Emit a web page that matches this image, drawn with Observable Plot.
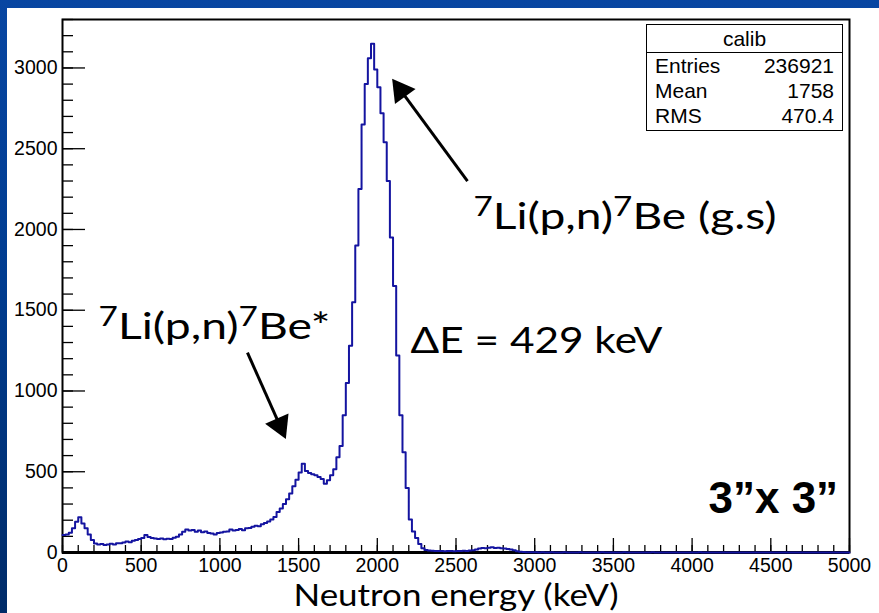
<!DOCTYPE html>
<html><head><meta charset="utf-8">
<script src="https://cdn.jsdelivr.net/npm/d3@7"></script>
<script src="https://cdn.jsdelivr.net/npm/@observablehq/plot@0.6"></script>
<style>
html,body{margin:0;padding:0;}
body{width:879px;height:613px;overflow:hidden;position:relative;
  background:linear-gradient(180deg,#0846a2 0%,#003c90 45%,#002b68 100%);}
#panel{position:absolute;left:7px;top:8px;width:872px;height:605px;background:#fff;}
#chart{position:absolute;left:0;top:0;}
#stats{position:absolute;left:646px;top:24px;width:197px;height:107px;border:1.5px solid #000;box-sizing:border-box;
  font-family:"Liberation Sans",Arial,sans-serif;font-size:21px;color:#000;background:#fff;}
#stats .title{height:27px;line-height:28px;text-align:center;border-bottom:1.5px solid #000;}
#stats .row{display:flex;justify-content:space-between;height:25px;line-height:25px;padding:0 8px 0 8px;}
</style></head>
<body>
<div id="panel"></div>
<div id="chart"></div>
<div id="stats"></div>
<script>
// ---- data: histogram counts, 20 keV bins ----
const binWidth = 20;
const counts0to1000 = [108,112,122,150,190,218,180,150,112,78,55,50,52,47,50,54,50,58,57,62,
  68,64,72,78,84,90,108,96,90,86,84,87,82,85,84,92,98,112,128,142,
  136,140,128,136,126,130,120,118,112,120];
const counts1000to2000 = [124,128,130,142,136,140,146,138,150,152,160,166,162,175,182,192,205,220,250,272,
  300,330,365,410,450,495,550,505,492,484,478,468,455,425,448,478,515,590,660,850,
  1050,1280,1550,1900,2250,2650,2900,3060,3150,2990];
const counts2000to3000 = [2880,2720,2540,2300,1950,1650,1220,850,620,400,205,130,90,52,26,16,13,11,10,9,
  10,8,9,10,8,9,10,11,10,12,14,18,24,28,26,30,32,28,30,26,
  24,22,18,14,8,4,3,2,2,1];
const counts3000to5000 = [1,0,1,0,0,1,0,0,0,1,0,0,0,0,1,0,0,0,0,0,
  0,1,0,0,0,0,0,0,1,0,0,0,0,0,0,0,0,1,0,0,
  0,0,0,0,0,0,0,0,0,0,0,0,1,0,0,0,0,0,0,0,
  0,0,0,0,0,0,0,0,0,0,0,0,0,0,0,0,0,0,0,0,
  0,0,0,0,0,0,0,0,0,0,0,0,0,0,0,0,0,0,0,0];
const xMajor = [0,500,1000,1500,2000,2500,3000,3500,4000,4500,5000];
const yMajor = [0,500,1000,1500,2000,2500,3000];
const xMinor = d3.range(0, 5001, 100);
const yMinor = d3.range(0, 3301, 100);
const statsTitle = "calib";
const statsNames = ["Entries","Mean","RMS"];
const statsValues = ["236921","1758","470.4"];
const xTitle = "Neutron energy (keV)";
// annotations (data coordinates)
const notes = [
  {e: 2611, n: 2004, label: "7Li(p,n)7Be (g.s)", len: 303},
  {e: 229,  n: 1323, label: "7Li(p,n)7Be*", len: 232},
  {e: 2211, n: 1237, label: "\u0394E = 429 keV", len: 252}
];
const noteBold = [{e: 4104, n: 247, label: "3\u201Dx 3\u201D"}];
const arrows = [
  {e1: 2573, n1: 2300, e2: 2116, n2: 2905},
  {e1: 1175, n1: 1237, e2: 1404, n2: 736}
];
const supParts = {
  "7Li(p,n)7Be (g.s)": [["7",1],["Li(p,n)",0],["7",1],["Be (g.s)",0]],
  "7Li(p,n)7Be*": [["7",1],["Li(p,n)",0],["7",1],["Be*",0]]
};
const stretch = {"7Li(p,n)7Be (g.s)": 303, "7Li(p,n)7Be*": 232, "\u0394E = 429 keV": 252, "Neutron energy (keV)": 325};

// ---- build ----
const counts = [...counts0to1000, ...counts1000to2000, ...counts2000to3000, ...counts3000to5000];
const hist = counts.map((n, i) => ({e: i * binWidth, n}));
hist.push({e: 5000, n: counts[counts.length - 1]});

const W = 879, H = 613, mL = 62, mR = 30, mT = 19, mB = 61;
const plotW = W - mL - mR, plotH = H - mT - mB;
const xMax = 5000, yMax = 3300;
const kx = plotW / xMax, ky = plotH / yMax;
const headBack = 9; // px from tip to triangle center
const heads = arrows.map(a => {
  const dx = (a.e2 - a.e1) * kx, dy = -(a.n2 - a.n1) * ky;
  const L = Math.hypot(dx, dy), ux = dx / L, uy = dy / L;
  return {e: a.e2 - ux * headBack / kx, n: a.n2 + uy * headBack / ky,
          rot: Math.atan2(ux, -uy) * 180 / Math.PI};
});
const shafts = arrows.map((a, i) => ({e1: a.e1, n1: a.n1, e2: heads[i].e, n2: heads[i].n}));

const calibri = "Lato, 'Open Sans', sans-serif";
const chart = Plot.plot({
  width: W, height: H,
  marginLeft: mL, marginRight: mR, marginTop: mT, marginBottom: mB,
  style: {background: "transparent", fontFamily: "'Liberation Sans', Arial, sans-serif", fontSize: "19.5px", color: "#000"},
  x: {domain: [0, xMax], label: null},
  y: {domain: [0, yMax], label: null},
  marks: [
    Plot.ruleX(xMinor, {stroke: "#000", strokeWidth: 1.3, insetTop: plotH - 7}),
    Plot.ruleX(xMajor, {stroke: "#000", strokeWidth: 1.3, insetTop: plotH - 14}),
    Plot.ruleY(yMinor, {stroke: "#000", strokeWidth: 1.3, insetRight: plotW - 11}),
    Plot.ruleY(yMajor, {stroke: "#000", strokeWidth: 1.3, insetRight: plotW - 23}),
    Plot.axisX({ticks: xMajor, tickSize: 0, tickPadding: 6, tickFormat: d => String(d), label: null}),
    Plot.axisY({ticks: yMajor, tickSize: 0, tickPadding: 5, tickFormat: d => String(d), label: null}),
    Plot.frame({stroke: "#000", strokeWidth: 2}),
    Plot.ruleY([0], {stroke: "#000", strokeWidth: 3}),
    Plot.line(hist, {x: "e", y: "n", curve: "step-after", stroke: "#1414a0", strokeWidth: 2}),
    Plot.link(shafts, {x1: "e1", y1: "n1", x2: "e2", y2: "n2", stroke: "#000", strokeWidth: 3}),
    Plot.dot(heads, {x: "e", y: "n", rotate: "rot", symbol: "triangle", r: 9.5, fill: "#000", stroke: "none"}),
    Plot.text(notes, {x: "e", y: "n", text: "label", textAnchor: "start", lineAnchor: "bottom",
      fontFamily: calibri, fontSize: 36, fill: "#000"}),
    Plot.text(noteBold, {x: "e", y: "n", text: "label", textAnchor: "start", lineAnchor: "bottom",
      fontFamily: "'Liberation Sans', Arial, sans-serif", fontWeight: "bold", fontSize: 44, fill: "#000"}),
    Plot.text([xTitle], {frameAnchor: "bottom", lineAnchor: "bottom", dy: 53,
      fontFamily: calibri, fontSize: 30, fill: "#000"})
  ]
});
document.getElementById("chart").appendChild(chart);

// superscripts and horizontal stretch (the reference text is widened)
d3.select(chart).selectAll("text").each(function() {
  const key = this.textContent;
  const sel = d3.select(this);
  const parts = supParts[key];
  if (parts) {
    sel.text(null);
    let raised = false;
    parts.forEach(([t, sup]) => {
      const ts = sel.append("tspan").text(t);
      if (sup && !raised) { ts.attr("dy", -13).attr("font-size", 26); raised = true; }
      else if (!sup && raised) { ts.attr("dy", 13); raised = false; }
    });
  }
  if (stretch[key]) sel.attr("textLength", stretch[key]).attr("lengthAdjust", "spacingAndGlyphs");
});

// stats box
const box = d3.select("#stats");
box.append("div").attr("class", "title").text(statsTitle);
statsNames.forEach((nm, i) => {
  const r = box.append("div").attr("class", "row");
  r.append("span").text(nm);
  r.append("span").text(statsValues[i]);
});
</script>
</body></html>
